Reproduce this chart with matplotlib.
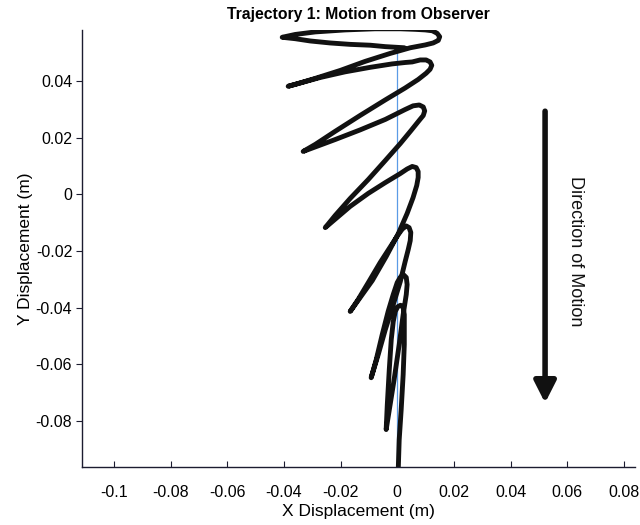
import matplotlib
matplotlib.use("Agg")
import matplotlib.pyplot as plt

# trajectory (metres); starts near the top, ends at the bottom
traj_x = [
    # start -> left tip of first loop
    0.0025, -0.0042, -0.0095, -0.0166, -0.0237, -0.0307, -0.0360, -0.0406,
    # top edge and right end of first loop
    -0.0360, -0.0289, -0.0184, -0.0078, 0.0011, 0.0064, 0.0099, 0.0124, 0.0141, 0.0150,
    0.0145, 0.0127, 0.0099,
    0.0046, -0.0025, -0.0113, -0.0201, -0.0289, -0.0349, -0.0385,
    -0.0342, -0.0272, -0.0184, -0.0095, -0.0018, 0.0028, 0.0053, 0.0081, 0.0102, 0.0116,
    0.0122, 0.0116, 0.0102,
    0.0074, 0.0028, -0.0042, -0.0131, -0.0219, -0.0289, -0.0332,
    -0.0289, -0.0219, -0.0131, -0.0042, 0.0028, 0.0056, 0.0078, 0.0092, 0.0097, 0.0092, 0.0078,
    0.0049, 0.0011, -0.0042, -0.0102, -0.0166, -0.0219, -0.0254,
    -0.0219, -0.0166, -0.0102, -0.0042, 0.0011, 0.0035, 0.0053, 0.0067, 0.0074, 0.0074, 0.0069,
    0.0056, 0.0035, 0.0004, -0.0039, -0.0088, -0.0131, -0.0166,
    -0.0138, -0.0102, -0.0060, -0.0021, 0.0004, 0.0018, 0.0032, 0.0042, 0.0048, 0.0046, 0.0039,
    0.0028, 0.0011, -0.0014, -0.0042, -0.0067, -0.0092,
    -0.0074, -0.0053, -0.0032, -0.0014, 0.0000, 0.0011, 0.0023, 0.0032, 0.0035, 0.0032,
    0.0021, 0.0007, -0.0011, -0.0025, -0.0039,
    -0.0035, -0.0028, -0.0021, -0.0014, -0.0007, 0.0002, 0.0012, 0.0021, 0.0025, 0.0025,
    0.0025, 0.0021, 0.0014, 0.0007, 0.0004,
]
traj_y = [
    0.0518, 0.0522, 0.0527, 0.0530, 0.0535, 0.0542, 0.0550, 0.0555,
    0.0565, 0.0574, 0.0581, 0.0585, 0.0585, 0.0583, 0.0581, 0.0578, 0.0569, 0.0557,
    0.0544, 0.0535, 0.0528,
    0.0518, 0.0498, 0.0470, 0.0438, 0.0410, 0.0392, 0.0382,
    0.0394, 0.0413, 0.0433, 0.0449, 0.0461, 0.0466, 0.0468, 0.0475, 0.0475, 0.0468,
    0.0456, 0.0442, 0.0428,
    0.0406, 0.0376, 0.0334, 0.0279, 0.0223, 0.0177, 0.0152,
    0.0168, 0.0194, 0.0228, 0.0265, 0.0300, 0.0313, 0.0316, 0.0309, 0.0295, 0.0279, 0.0262,
    0.0226, 0.0180, 0.0120, 0.0053, -0.0014, -0.0074, -0.0117,
    -0.0087, -0.0042, 0.0004, 0.0042, 0.0074, 0.0090, 0.0099, 0.0095, 0.0081, 0.0060, 0.0032,
    -0.0011, -0.0067, -0.0138, -0.0219, -0.0304, -0.0364, -0.0413,
    -0.0371, -0.0311, -0.0240, -0.0180, -0.0141, -0.0122, -0.0111, -0.0117, -0.0134, -0.0163, -0.0194,
    -0.0237, -0.0307, -0.0389, -0.0477, -0.0565, -0.0647,
    -0.0583, -0.0495, -0.0413, -0.0353, -0.0311, -0.0292, -0.0284, -0.0293, -0.0318, -0.0353,
    -0.0424, -0.0530, -0.0654, -0.0742, -0.0830,
    -0.0742, -0.0618, -0.0512, -0.0449, -0.0413, -0.0396, -0.0391, -0.0399, -0.0424, -0.0459,
    -0.0530, -0.0636, -0.0760, -0.0866, -0.0961,
]

# straight observer line
observer_x = [0.0, 0.0]
observer_y = [0.052, -0.0961]

# direction arrow
arrow_x = 0.0522
arrow_y = [0.0294, -0.0736]

x_ticks = [-0.1, -0.08, -0.06, -0.04, -0.02, 0, 0.02, 0.04, 0.06, 0.08]
x_tick_labels = ["-0.1", "-0.08", "-0.06", "-0.04", "-0.02", "0", "0.02", "0.04", "0.06", "0.08"]
y_ticks = [-0.08, -0.06, -0.04, -0.02, 0, 0.02, 0.04]
y_tick_labels = ["-0.08", "-0.06", "-0.04", "-0.02", "0", "0.02", "0.04"]

plt.rcParams["font.family"] = ["Liberation Sans", "DejaVu Sans"]
axis_color = "#1c1c30"
ink = "#111111"

fig = plt.figure(figsize=(6.4, 5.25), dpi=100)
ax = fig.add_axes([0.128, 0.110, 0.864, 0.833])

ax.plot(observer_x, observer_y, color="#5b9be6", linewidth=0.9, zorder=1)
ax.plot(traj_x, traj_y, color=ink, linewidth=3.5,
        solid_joinstyle="round", solid_capstyle="round", zorder=2)

ax.annotate(
    "",
    xy=(arrow_x, arrow_y[1]),
    xytext=(arrow_x, arrow_y[0]),
    arrowprops=dict(
        arrowstyle="-|>,head_length=0.65,head_width=0.33",
        mutation_scale=20,
        linewidth=4.0,
        color=ink,
        shrinkA=0,
        shrinkB=0,
    ),
)
ax.text(0.063, -0.02, "Direction of Motion", rotation=-90, fontsize=13,
        ha="center", va="center", color=ink)

ax.set_xlim(-0.1113, 0.0839)
ax.set_ylim(-0.0963, 0.0581)

ax.set_xticks(x_ticks)
ax.set_xticklabels(x_tick_labels)
ax.set_yticks(y_ticks)
ax.set_yticklabels(y_tick_labels)

ax.spines["right"].set_visible(False)
ax.spines["top"].set_visible(False)
for side in ["left", "bottom"]:
    ax.spines[side].set_color(axis_color)
    ax.spines[side].set_linewidth(1.0)
ax.tick_params(axis="x", direction="in", length=4, color=axis_color, labelsize=11.5, pad=13)
ax.tick_params(axis="y", direction="out", length=4, color=axis_color, labelsize=11.5, pad=3)

ax.set_xlabel("X Displacement (m)", fontsize=12.5, labelpad=3)
ax.set_ylabel("Y Displacement (m)", fontsize=12.5, labelpad=2)
ax.set_title("Trajectory 1: Motion from Observer", fontsize=11.3, fontweight="bold", pad=8)

fig.savefig("out.png", dpi=100)
